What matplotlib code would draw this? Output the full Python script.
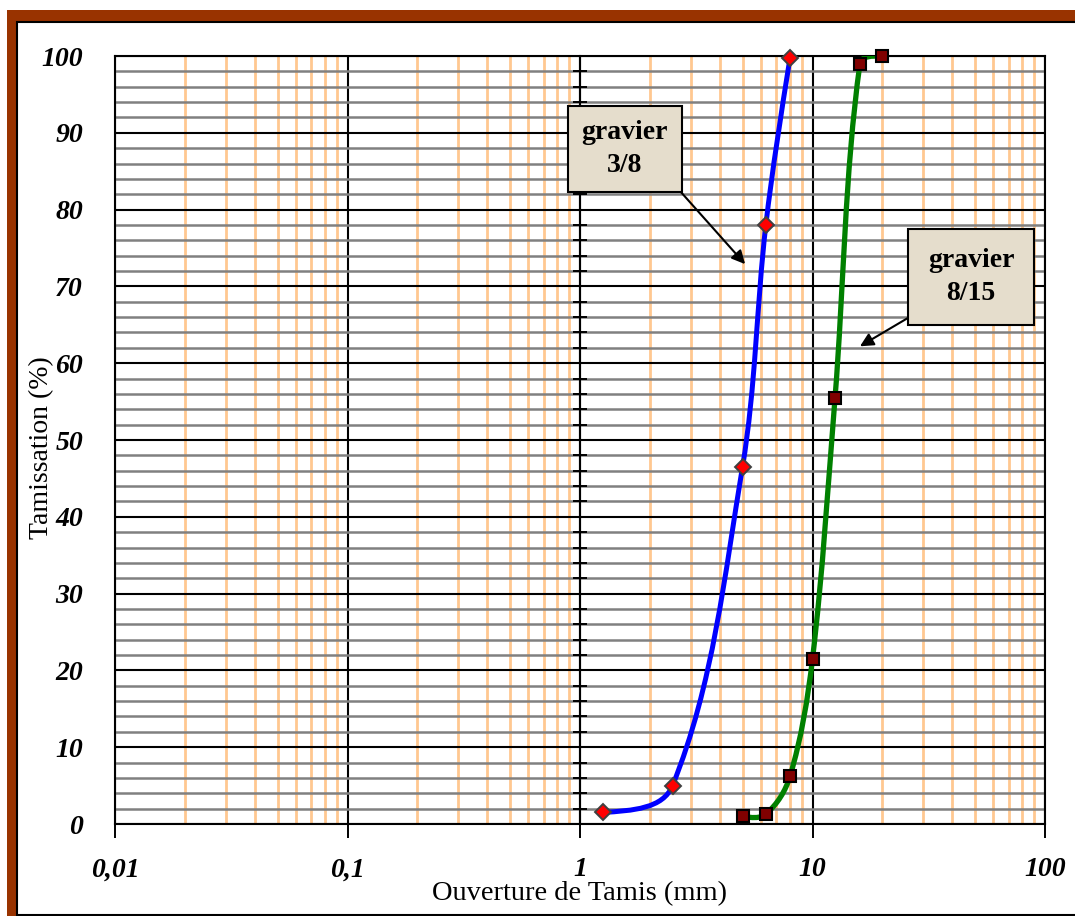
import numpy as np
import matplotlib
matplotlib.use("Agg")
import matplotlib.pyplot as plt
from matplotlib.path import Path
from matplotlib.patches import PathPatch, Rectangle
from matplotlib.ticker import FixedLocator, NullFormatter, LogLocator

# donnees
tamis_38 = [1.25, 2.5, 5, 6.3, 8]
passant_38 = [1.5, 5, 46.5, 78, 99.7]
tamis_815 = [5, 6.3, 8, 10, 12.5, 16, 20]
passant_815 = [1.0, 1.3, 6.2, 21.5, 55.5, 99, 100]
xticks = [0.01, 0.1, 1, 10, 100]
xticklabels = ["0,01", "0,1", "1", "10", "100"]
yticks = list(range(0, 101, 10))

plt.rcParams['font.family'] = ['Liberation Serif', 'DejaVu Serif']

W, H = 1075, 916
fig = plt.figure(figsize=(W / 100, H / 100), dpi=100)

# cadre marron + fond blanc
fig.patches.append(Rectangle((7 / W, 0), 1, 1 - 10 / H, transform=fig.transFigure,
                             facecolor='#993300', edgecolor='none', zorder=-10))
fig.patches.append(Rectangle((17 / W, 1 / H), 1, 1 - 23 / H, transform=fig.transFigure,
                             facecolor='white', edgecolor='black', lw=1.5, zorder=-9))

ax = fig.add_axes([115 / W, (H - 824) / H, 930 / W, 768 / H])
ax.set_xscale('log')
ax.set_xlim(0.01, 100)
ax.set_ylim(0, 100)

# grille
minor_y = [v for v in range(0, 101, 2) if v % 10]
ax.xaxis.set_minor_locator(LogLocator(base=10, subs=np.arange(2, 10)))
ax.xaxis.set_minor_formatter(NullFormatter())
ax.yaxis.set_minor_locator(FixedLocator(minor_y))
ax.grid(which='minor', axis='x', color='#FFC890', lw=2.0, zorder=0)
ax.grid(which='minor', axis='y', color='#808080', lw=1.8, zorder=0.5)
ax.grid(which='major', axis='both', color='black', lw=1.5, zorder=1)
ax.set_axisbelow(True)

ax.set_xticks(xticks)
ax.set_xticklabels(xticklabels)
ax.set_yticks(yticks)
ax.tick_params(axis='x', which='major', direction='out', length=10, width=1.4,
               pad=14, labelsize=20)
ax.tick_params(axis='x', which='minor', length=0)
ax.tick_params(axis='y', which='both', length=0, pad=23, labelsize=20)
for lab in ax.get_xticklabels() + ax.get_yticklabels():
    lab.set_fontweight('bold')
    lab.set_fontstyle('italic')
for sp in ax.spines.values():
    sp.set_linewidth(1.5)

# axe vertical passant par x = 1 (graduations croisees)
ax2 = ax.twinx()
ax2.set_ylim(0, 100)
ax2.set_yticks(yticks)
ax2.yaxis.set_minor_locator(FixedLocator(minor_y))
ax2.yaxis.set_minor_formatter(NullFormatter())
for name in ['left', 'top', 'bottom']:
    ax2.spines[name].set_visible(False)
ax2.spines['right'].set_position(('data', 1))
ax2.spines['right'].set_linewidth(1.5)
ax2.tick_params(axis='y', which='both', direction='inout', length=10, width=1.4,
                labelright=False, labelleft=False)

ax.set_xlabel("Ouverture de Tamis (mm)", fontsize=20.5, va='center')
ax.xaxis.set_label_coords(0.5, -0.09)
ax.set_ylabel("Tamissation (%)", fontsize=20, va='center')
ax.yaxis.set_label_coords(-0.079, 0.49)

# courbe lissee (type Excel) : Bezier dans l'espace (log x, y) a l'echelle ecran
sx, sy = 930 / 4, 768 / 100


def smooth_path(xs, ys):
    P = np.column_stack([np.log10(xs) * sx, np.array(ys) * sy])
    n = len(P)
    d = np.hypot(*np.diff(P, axis=0).T)
    cin = [None] * n
    cout = [None] * n
    for i in range(1, n - 1):
        t = P[i + 1] - P[i - 1]
        t = t / np.hypot(*t)
        cin[i] = P[i] - t * d[i - 1] / 3
        cout[i] = P[i] + t * d[i] / 3
    cout[0] = P[0] + (cin[1] - P[0]) / 2
    cin[n - 1] = P[n - 1] + (cout[n - 2] - P[n - 1]) / 2
    verts = [P[0]]
    codes = [Path.MOVETO]
    for i in range(n - 1):
        verts += [cout[i], cin[i + 1], P[i + 1]]
        codes += [Path.CURVE4] * 3
    verts = np.array(verts)
    verts = np.column_stack([10 ** (verts[:, 0] / sx), verts[:, 1] / sy])
    return Path(verts, codes)


ax.add_patch(PathPatch(smooth_path(tamis_38, passant_38), facecolor='none',
                       edgecolor='#0000FF', lw=3.6, zorder=3, capstyle='round'))
ax.add_patch(PathPatch(smooth_path(tamis_815, passant_815), facecolor='none',
                       edgecolor='#008000', lw=3.8, zorder=3, capstyle='round'))
ax.plot(tamis_38, passant_38, ls='none', marker='D', ms=8, mfc='#FF0000',
        mec='#404040', mew=1.4, zorder=4, clip_on=False)
ax.plot(tamis_815, passant_815, ls='none', marker='s', ms=9, mfc='#800000',
        mec='black', mew=1.5, zorder=4, clip_on=False)

# etiquettes (dans ax2 pour rester au-dessus des graduations)
box = dict(boxstyle='square,pad=0.5', fc='#E5DDCC', ec='black', lw=1.5)
ax2.annotate("gravier\n3/8", xy=(5.13, 72.9), xytext=(1.56, 87.9),
             ha='center', va='center', fontsize=20, fontweight='bold',
             linespacing=1.4, bbox=box, zorder=6,
             arrowprops=dict(arrowstyle='-|>', color='black', lw=1.5,
                             mutation_scale=20, relpos=(1, 0), shrinkA=0, shrinkB=0))
box2 = dict(boxstyle='square,pad=0.7', fc='#E5DDCC', ec='black', lw=1.5)
ax2.annotate("gravier\n8/15", xy=(16.0, 62.2), xytext=(48.1, 71.2),
             ha='center', va='center', fontsize=20, fontweight='bold',
             linespacing=1.4, bbox=box2, zorder=6,
             arrowprops=dict(arrowstyle='-|>', color='black', lw=1.5,
                             mutation_scale=20, relpos=(0.06, 0.05), shrinkA=0, shrinkB=0))

fig.savefig("out.png", dpi=100)
